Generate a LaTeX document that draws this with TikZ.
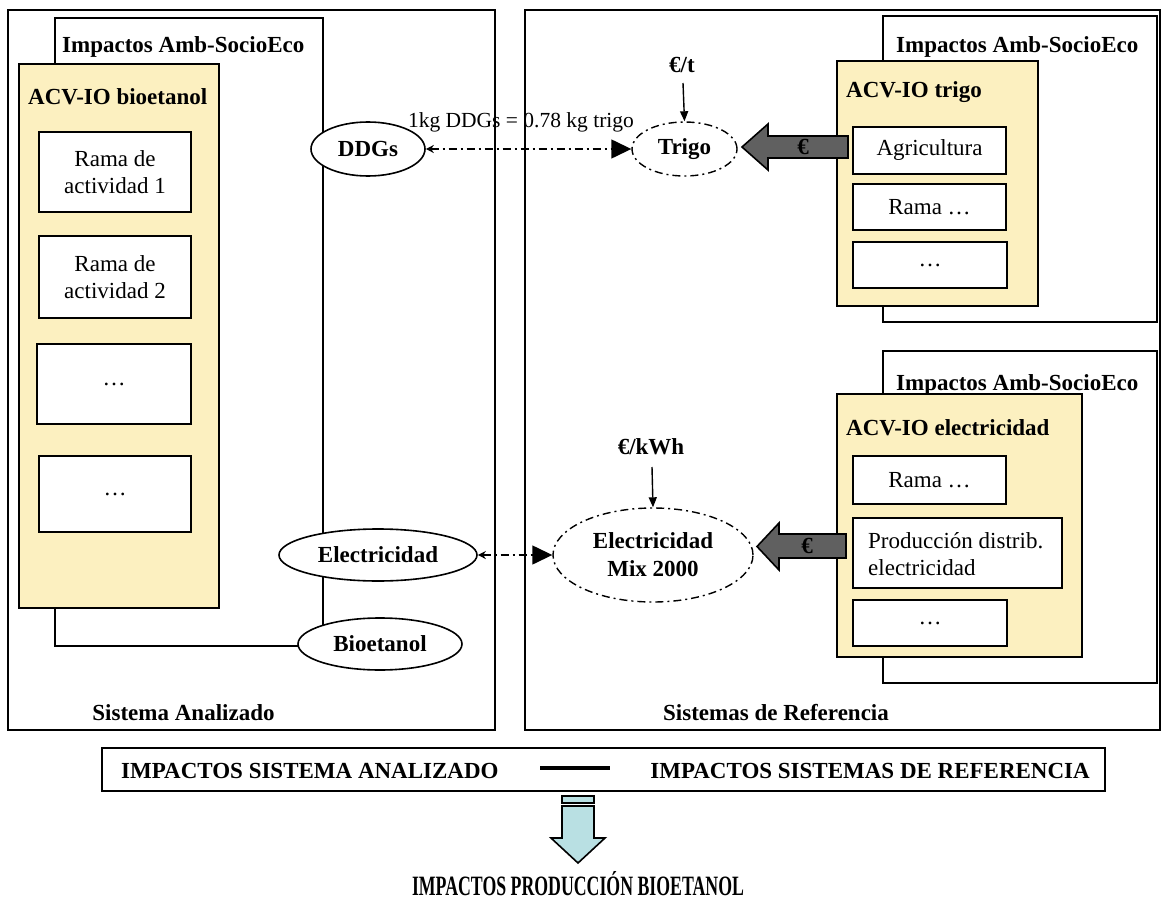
\documentclass[tikz,border=0pt]{standalone}
\usepackage{fontspec}
\setmainfont{Liberation Serif}
\usetikzlibrary{shapes.geometric,arrows.meta,calc}

\definecolor{acvyellow}{HTML}{FCF0C0}
\definecolor{eurogray}{HTML}{606060}
\definecolor{outblue}{HTML}{B9E0E3}

\tikzset{
  frame/.style={draw, line width=1.6pt},
  acv/.style={draw, line width=1.6pt, fill=acvyellow},
  branch/.style={draw, line width=1.6pt, fill=white, inner sep=0pt, align=center,
                 font=\fontsize{23}{27}\selectfont},
  flow/.style={ellipse, draw, line width=1.6pt, fill=white, inner sep=0pt,
               font=\fontsize{23}{27}\selectfont\bfseries},
  ddash/.style={line width=1.4pt, dash pattern=on 8pt off 4pt on 2pt off 4pt},
  mkt/.style={ellipse, draw, ddash, fill=white, inner sep=0pt, align=center,
              font=\fontsize{23}{28}\selectfont\bfseries},
  lbl/.style={inner sep=0pt, font=\fontsize{23}{27}\selectfont\bfseries},
  plain/.style={inner sep=0pt, font=\fontsize{23}{27}\selectfont},
  euroarrow/.style={draw=black, line width=1.6pt, fill=eurogray, line join=miter},
  outarrow/.style={draw=black, line width=1.6pt, fill=outblue, line join=miter},
  price/.style={line width=1.4pt, -{Triangle[length=10pt,width=8pt]}},
}

\begin{document}
\begin{tikzpicture}[x=1pt,y=-1pt]
\useasboundingbox (0,0) rectangle (1162,899);

% ---- the two system frames ----
\draw[frame] (8,10) rectangle (495,730);
\draw[frame] (525,10) rectangle (1160,730);
\node[lbl, anchor=base] (sysA) at (183.5,720) {Sistema Analizado};
\node[lbl, anchor=base] (sysR) at (776,720) {Sistemas de Referencia};

% ---- analysed system: bioethanol LCA-IO ----
\draw[frame] (55,18) rectangle (323,646);
\node[lbl, anchor=base west] (impA) at (62,53) {Impactos Amb-SocioEco};
\draw[acv] (19,64) rectangle (219,608);
\node[lbl, anchor=base west] (acvA) at (28,104) {ACV-IO bioetanol};
\node[branch, minimum width=152, minimum height=80] (ra1) at (115,172) {Rama de\\actividad 1};
\node[branch, minimum width=152, minimum height=82] (ra2) at (115,277) {Rama de\\actividad 2};
\node[branch, minimum width=154, minimum height=80] (ra3) at (114,384) {\ldots};
\node[branch, minimum width=152, minimum height=76] (ra4) at (115,494) {\ldots};

\node[flow, minimum width=114, minimum height=54] (ddgs) at (368,149) {DDGs};
\node[flow, minimum width=198, minimum height=52] (elecA) at (378,555) {Electricidad};
\node[flow, minimum width=164, minimum height=52] (bioet) at (380,644) {Bioetanol};

% ---- reference system: wheat ----
\draw[frame] (883,16) rectangle (1157,322);
\node[lbl, anchor=base west] (impT) at (896,53) {Impactos Amb-SocioEco};
\draw[acv] (837,61) rectangle (1038,306);
\node[lbl, anchor=base west] (acvT) at (846,97) {ACV-IO trigo};
\node[branch, minimum width=153, minimum height=47] (agri) at (929.5,150.5) {Agricultura};
\node[branch, minimum width=153, minimum height=46] (rt2) at (929.5,207) {Rama \ldots};
\node[branch, minimum width=154, minimum height=46] (rt3) at (930,265) {\ldots};

\node[mkt, minimum width=105, minimum height=54] (trigo) at (684.5,149) {Trigo};
\node[lbl] (eurt) at (682,65) {€/t};
\draw[price] (683,83) -- (trigo.north);

\draw[euroarrow] (848,136) -- (768,136) -- (768,124) -- (742,147)
  -- (768,170) -- (768,158) -- (848,158) -- cycle;
\node[lbl] (eurT) at (803,147) {€};

% ---- reference system: electricity ----
\draw[frame] (883,351) rectangle (1157,683);
\node[lbl, anchor=base west] (impE) at (896,390) {Impactos Amb-SocioEco};
\draw[acv] (837,394) rectangle (1082,657);
\node[lbl, anchor=base west] (acvE) at (846,435) {ACV-IO electricidad};
\node[branch, minimum width=153, minimum height=48] (re1) at (929.5,480) {Rama \ldots};
\node[branch, minimum width=209, minimum height=70] (re2) at (957.5,553) {};
\node[plain, anchor=base west] (prod) at (868,548) {Producción distrib.};
\node[plain, anchor=base west] (prod2) at (868,575) {electricidad};
\node[branch, minimum width=154, minimum height=46] (re3) at (930,623) {\ldots};

\node[mkt, minimum width=200, minimum height=94] (mix) at (653,555) {Electricidad\\Mix 2000};
\node[lbl] (eurk) at (651,447) {€/kWh};
\draw[price] (652,467) -- (mix.north);

\draw[euroarrow] (846,534) -- (779,534) -- (779,523) -- (757,546.5)
  -- (779,570) -- (779,558) -- (846,558) -- cycle;
\node[lbl] (eurE) at (807,546) {€};

% ---- substitution links ----
\draw[ddash, {Stealth[length=8pt,width=8pt]}-{Triangle[length=20pt,width=19pt]}]
  (ddgs.east) -- (trigo.west);
\node[anchor=base, inner sep=0pt, font=\fontsize{21.5}{26}\selectfont] (ratio) at (521,127)
  {1kg DDGs = 0.78 kg trigo};
\draw[ddash, {Stealth[length=8pt,width=8pt]}-{Triangle[length=20pt,width=19pt]}]
  (elecA.east) -- (mix.west);

% ---- balance of impacts ----
\draw[frame] (102,748) rectangle (1105,791);
\node[lbl, anchor=base west] (totA) at (121,778) {IMPACTOS SISTEMA ANALIZADO};
\node[lbl, anchor=base east] (totR) at (1090,778) {IMPACTOS SISTEMAS DE REFERENCIA};
\draw[line width=4pt] (540,768) -- (610,768);

\draw[outarrow] (562,796) rectangle (594,803);
\draw[outarrow] (562,806) -- (594,806) -- (594,838) -- (605,838) -- (578,863)
  -- (551,838) -- (562,838) -- cycle;
\node[anchor=base, inner sep=0pt, font=\fontsize{28}{32}\selectfont\bfseries] (result) at (578,895)
  {\scalebox{0.635}[1]{IMPACTOS PRODUCCIÓN BIOETANOL}};

\end{tikzpicture}
\end{document}
